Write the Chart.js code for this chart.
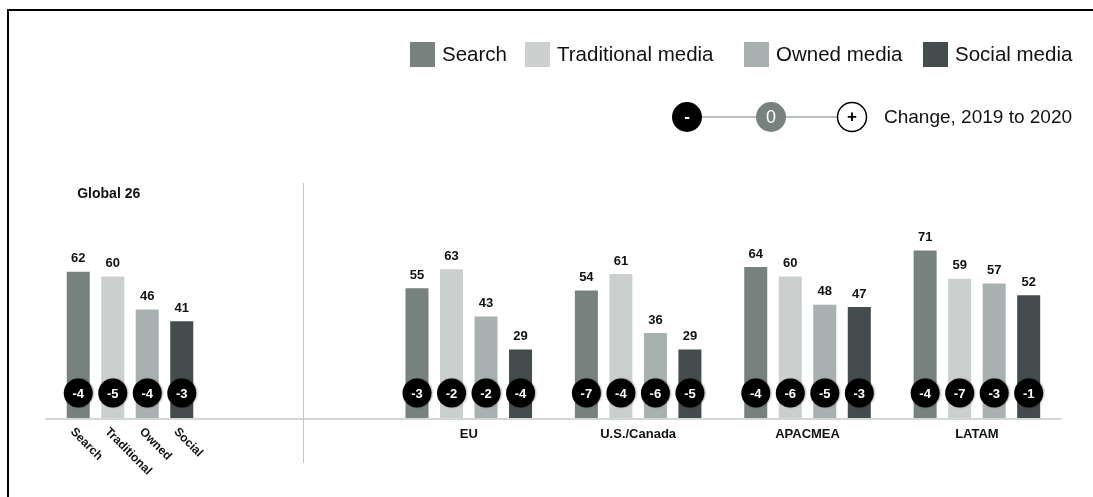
<!DOCTYPE html>
<html>
<head>
<meta charset="utf-8">
<script src="https://cdn.jsdelivr.net/npm/chart.js"></script>
<style>
  html, body { margin: 0; padding: 0; background: #fff; overflow: hidden; }
  #wrap { position: relative; width: 1093px; height: 497px; overflow: hidden; }
  #frame { position: absolute; left: 7px; top: 9px; width: 2000px; height: 2000px;
           border-left: 2px solid #000; border-top: 2px solid #000; }
  #chart { position: absolute; left: 0; top: 0; }
</style>
</head>
<body>
<div id="wrap">
  <div id="frame"></div>
  <canvas id="chart" width="1093" height="497"></canvas>
</div>
<script>
// regions, with an empty slot between Global and the rest
const regions = ['Global 26', '', 'EU', 'U.S./Canada', 'APACMEA', 'LATAM'];
const seriesNames = ['Search', 'Traditional media', 'Owned media', 'Social media'];
const shortNames = ['Search', 'Traditional', 'Owned', 'Social'];
const seriesColors = ['#77827f', '#cbd0cf', '#a9b0b0', '#454c4d'];

// share (%) in 2020
const search      = [62, null, 55, 54, 64, 71];
const traditional = [60, null, 63, 61, 60, 59];
const owned       = [46, null, 43, 36, 48, 57];
const social      = [41, null, 29, 29, 47, 52];

// change in points, 2019 to 2020
const searchChg      = [-4, null, -3, -7, -4, -4];
const traditionalChg = [-5, null, -2, -4, -6, -7];
const ownedChg       = [-4, null, -2, -6, -5, -3];
const socialChg      = [-3, null, -4, -5, -3, -1];

const values = [search, traditional, owned, social];
const changes = [searchChg, traditionalChg, ownedChg, socialChg];

// legend swatch positions
const legendX = [410, 525, 744, 923];

const FONT = '"Liberation Sans", Arial, sans-serif';

function circle(ctx, x, y, r, fill, stroke) {
  ctx.beginPath();
  ctx.arc(x, y, r, 0, Math.PI * 2);
  if (fill) { ctx.fillStyle = fill; ctx.fill(); }
  if (stroke) { ctx.strokeStyle = stroke; ctx.lineWidth = 1.5; ctx.stroke(); }
}

const decorations = {
  id: 'decorations',
  beforeDatasetsDraw(chart) {
    const { ctx, chartArea, scales } = chart;
    const base = scales.y.getPixelForValue(0);
    ctx.save();
    // baseline
    ctx.strokeStyle = '#d2d6d5';
    ctx.lineWidth = 2;
    ctx.beginPath();
    ctx.moveTo(chartArea.left, base + 1);
    ctx.lineTo(chartArea.right, base + 1);
    ctx.stroke();
    // divider between Global and the regions
    const sx = Math.round(scales.x.getPixelForValue(1)) + 4.5;
    ctx.strokeStyle = '#c4c4c4';
    ctx.lineWidth = 1;
    ctx.beginPath();
    ctx.moveTo(sx, chartArea.top + 1);
    ctx.lineTo(sx, base + 45);
    ctx.stroke();
    ctx.restore();
  },
  afterDatasetsDraw(chart) {
    const { ctx, scales } = chart;
    const base = scales.y.getPixelForValue(0);
    ctx.save();
    ctx.textAlign = 'center';
    ctx.textBaseline = 'middle';
    chart.data.datasets.forEach((ds, di) => {
      const meta = chart.getDatasetMeta(di);
      meta.data.forEach((bar, i) => {
        if (ds.data[i] == null) return;
        // value above the bar
        ctx.fillStyle = '#111';
        ctx.font = 'bold 13px ' + FONT;
        ctx.fillText(ds.data[i], bar.x, bar.y - 13);
        // change badge
        ctx.save();
        ctx.shadowColor = 'rgba(0,0,0,0.35)';
        ctx.shadowBlur = 2;
        ctx.shadowOffsetX = 1;
        circle(ctx, bar.x, base - 25, 14.5, '#000');
        ctx.restore();
        ctx.fillStyle = '#fff';
        ctx.font = 'bold 13px ' + FONT;
        ctx.fillText(changes[di][i], bar.x, base - 24);
      });
    });

    // region names under the axis
    ctx.fillStyle = '#111';
    ctx.font = 'bold 13px ' + FONT;
    regions.forEach((r, i) => {
      if (i < 2) return;
      ctx.fillText(r, scales.x.getPixelForValue(i), base + 16);
    });

    // Global: title plus slanted series names
    const trad = chart.getDatasetMeta(1).data[0];
    ctx.font = 'bold 14px ' + FONT;
    ctx.fillText(regions[0], trad.x - 4, scales.y.getPixelForValue(95));
    ctx.font = 'bold 12px ' + FONT;
    ctx.textAlign = 'left';
    shortNames.forEach((n, di) => {
      const bar = chart.getDatasetMeta(di).data[0];
      ctx.save();
      ctx.translate(bar.x - 6, base + 12);
      ctx.rotate(Math.PI / 4);
      ctx.fillText(n, 0, 0);
      ctx.restore();
    });
    ctx.restore();
  },
  afterDraw(chart) {
    const { ctx } = chart;
    ctx.save();
    // series legend
    ctx.font = '20.5px ' + FONT;
    ctx.textBaseline = 'middle';
    ctx.textAlign = 'left';
    seriesNames.forEach((name, i) => {
      ctx.fillStyle = seriesColors[i];
      ctx.fillRect(legendX[i], 42, 25, 25);
      ctx.fillStyle = '#111';
      ctx.fillText(name, legendX[i] + 32, 55);
    });

    // change key
    const ky = 117;
    ctx.strokeStyle = '#b9bfbe';
    ctx.lineWidth = 2;
    ctx.beginPath();
    ctx.moveTo(687, ky);
    ctx.lineTo(852, ky);
    ctx.stroke();
    circle(ctx, 687, ky, 15, '#000');
    circle(ctx, 771, ky, 15, '#77827f');
    circle(ctx, 852, ky, 14.5, '#fff', '#000');
    ctx.textAlign = 'center';
    ctx.fillStyle = '#fff';
    ctx.font = 'bold 17px ' + FONT;
    ctx.fillText('-', 687, ky);
    ctx.font = '18px ' + FONT;
    ctx.fillText('0', 771, ky + 1);
    ctx.fillStyle = '#000';
    ctx.font = 'bold 17px ' + FONT;
    ctx.fillText('+', 852, ky);
    ctx.textAlign = 'left';
    ctx.font = '19px ' + FONT;
    ctx.fillStyle = '#111';
    ctx.fillText('Change, 2019 to 2020', 884, ky + 1);
    ctx.restore();
  }
};

new Chart(document.getElementById('chart'), {
  type: 'bar',
  data: {
    labels: regions,
    datasets: seriesNames.map((name, i) => ({
      label: name,
      data: values[i],
      backgroundColor: seriesColors[i],
      borderWidth: 0,
      categoryPercentage: 0.815,
      barPercentage: 0.667
    }))
  },
  options: {
    responsive: false,
    animation: false,
    devicePixelRatio: 1,
    layout: { padding: { left: 45.3, right: 31.4, top: 182, bottom: 79 } },
    plugins: {
      legend: { display: false },
      tooltip: { enabled: false }
    },
    scales: {
      x: { display: false },
      y: { display: false, min: 0, max: 100 }
    }
  },
  plugins: [decorations]
});
</script>
</body>
</html>
